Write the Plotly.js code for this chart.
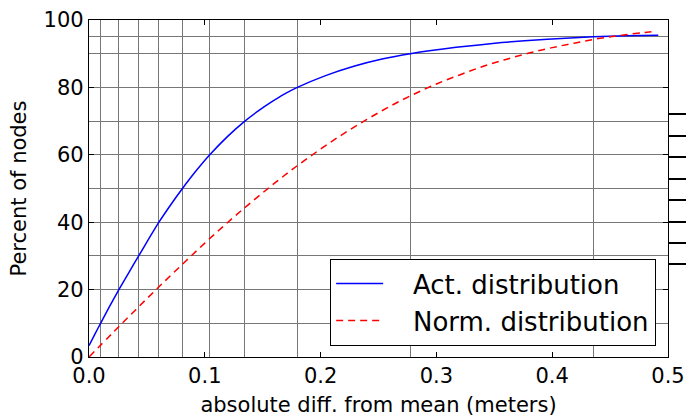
<!DOCTYPE html>
<html>
<head>
<meta charset="utf-8">
<script src="https://cdn.plot.ly/plotly-3.0.1.min.js"></script>
<style>html,body{margin:0;padding:0;background:#fff;}#chart{width:686px;height:419px;}</style>
</head>
<body>
<div id="chart"></div>
<script>
// Actual distribution (blue, solid)
const actX = [0, 0.005, 0.01, 0.0179, 0.0258, 0.0344, 0.0429, 0.0517, 0.0604, 0.0706, 0.0807, 0.0925, 0.1043, 0.1195, 0.1346, 0.1459, 0.1573, 0.1686, 0.1799, 0.2043, 0.2287, 0.2531, 0.2775, 0.317, 0.3564, 0.3959, 0.4353, 0.4635, 0.4916];
const actY = [3.4, 6.73, 10, 15.07, 20, 25.07, 30, 35.1, 40, 45.18, 50, 55.24, 60, 65.4, 70, 72.94, 75.6, 77.99, 80, 83.5, 86.28, 88.42, 90, 91.89, 93.29, 94.3, 95, 95.32, 95.5];
// Normal distribution (red, dashed)
const normX = [0, 0.02, 0.04, 0.06, 0.08, 0.10, 0.12, 0.14, 0.16, 0.18, 0.20, 0.22, 0.24, 0.26, 0.28, 0.30, 0.32, 0.34, 0.36, 0.38, 0.40, 0.42, 0.44, 0.46, 0.48, 0.49];
const normY = [0, 7.0, 13.9, 20.7, 27.3, 33.8, 40.0, 45.9, 51.5, 56.8, 61.7, 66.3, 70.5, 74.4, 77.9, 81.0, 83.7, 86.2, 88.3, 90.2, 91.8, 93.2, 94.5, 95.5, 96.3, 96.7];
// Grid positions
const gridX = [0.01, 0.0258, 0.0429, 0.0604, 0.0807, 0.1043, 0.1346, 0.1799, 0.2775, 0.4353];
const gridY = [10, 20, 30, 40, 50, 60, 70, 80, 90, 95];
// Tick labels
const xTicks = [0, 0.1, 0.2, 0.3, 0.4, 0.5];
const yTicks = [0, 20, 40, 60, 80, 100];
// Stray ticks on the right, outside the frame
const rightTicks = [72.1, 65.7, 59.3, 52.8, 46.6, 40.1, 33.7, 27.5];
const seriesNames = ['Act. distribution', 'Norm. distribution'];

const FONT = 'DejaVu Sans, sans-serif';
const PAD = '\u00a0\u00a0\u00a0';

const traces = [
  {x: actX, y: actY, type: 'scatter', mode: 'lines', name: PAD + seriesNames[0], legendgroup: 'a',
   line: {color: '#0000ff', width: 1.5, shape: 'spline', smoothing: 0.5}, hoverinfo: 'skip'},
  {x: normX, y: normY, type: 'scatter', mode: 'lines', name: PAD + seriesNames[1], legendgroup: 'b',
   line: {color: '#ff0000', width: 1.5, dash: '7px,5px', shape: 'spline', smoothing: 1}, hoverinfo: 'skip'},
  {x: [null], y: [null], yaxis: 'y2', type: 'scatter', mode: 'lines', showlegend: false, hoverinfo: 'skip'}
];

const layout = {
  width: 686, height: 419,
  margin: {l: 89, r: 18, t: 20, b: 62, pad: 0},
  paper_bgcolor: '#fff', plot_bgcolor: '#fff',
  font: {family: FONT, color: '#000', size: 21},
  showlegend: true,
  legend: {
    x: 0.979, y: 0.033, xanchor: 'right', yanchor: 'bottom',
    bgcolor: '#fff', bordercolor: '#000', borderwidth: 1.3,
    font: {family: FONT, size: 26, color: '#000'},
    traceorder: 'grouped', tracegroupgap: 0, itemwidth: 47
  },
  xaxis: {
    range: [0, 0.5], tickmode: 'array', tickvals: xTicks, tickformat: '.1f',
    ticks: 'inside', ticklen: 5, tickwidth: 1, tickcolor: '#000',
    showline: true, linecolor: '#000', linewidth: 1.3, mirror: 'ticks',
    showgrid: false, zeroline: false,
    tickfont: {family: FONT, size: 21, color: '#000'},
    minor: {tickmode: 'array', tickvals: gridX, showgrid: true, gridcolor: '#777777', gridwidth: 1, ticks: ''},
    title: {text: 'absolute diff. from mean (meters)', font: {family: FONT, size: 21, color: '#000'}, standoff: 9}
  },
  yaxis: {
    range: [0, 100], tickmode: 'array', tickvals: yTicks,
    ticks: 'inside', ticklen: 5, tickwidth: 1, tickcolor: '#000',
    showline: true, linecolor: '#000', linewidth: 1.3, mirror: 'ticks',
    showgrid: false, zeroline: false,
    tickfont: {family: FONT, size: 21, color: '#000'},
    minor: {tickmode: 'array', tickvals: gridY, showgrid: true, gridcolor: '#777777', gridwidth: 1, ticks: ''},
    title: {text: 'Percent of nodes', font: {family: FONT, size: 21, color: '#000'}, standoff: 11}
  },
  yaxis2: {
    overlaying: 'y', side: 'right', range: [0, 100], tickmode: 'array', tickvals: rightTicks,
    ticks: 'outside', ticklen: 18, tickwidth: 1.5, tickcolor: '#000',
    showticklabels: false, showgrid: false, showline: false, zeroline: false
  }
};

Plotly.newPlot('chart', traces, layout, {displayModeBar: false});
</script>
</body>
</html>
